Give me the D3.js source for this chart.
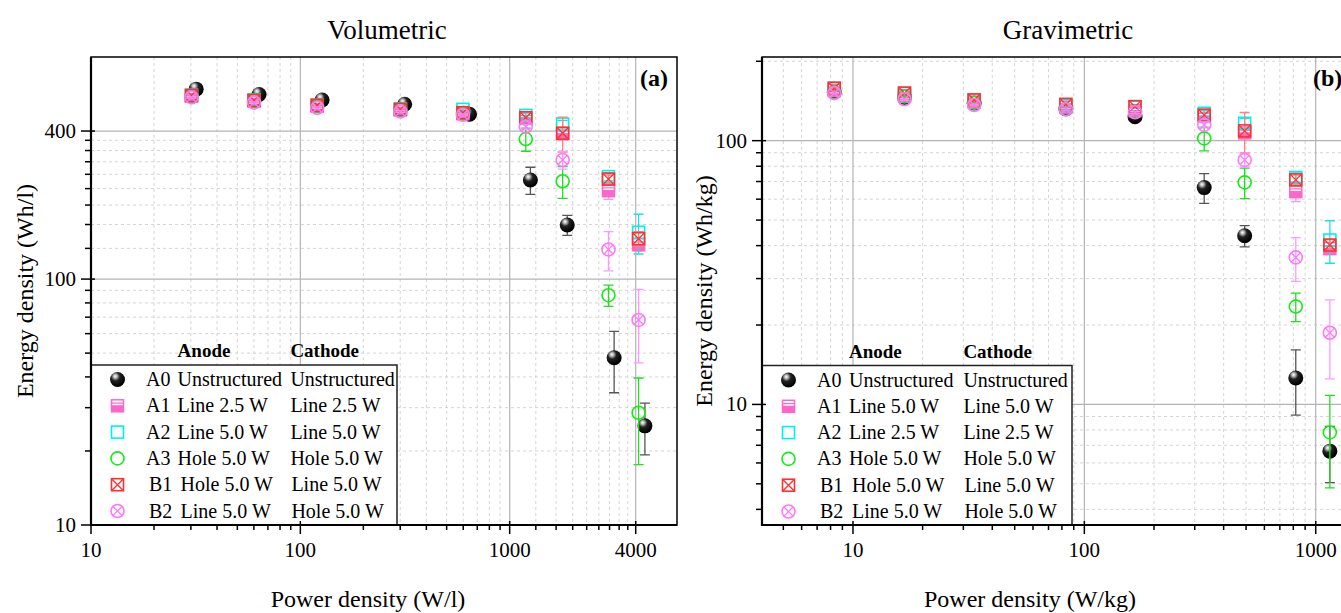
<!DOCTYPE html>
<html><head><meta charset="utf-8">
<script src="https://cdn.jsdelivr.net/npm/d3@7"></script>
<style>
html,body{margin:0;padding:0;background:#fff;}
svg{display:block;font-family:"Liberation Serif","Times New Roman",serif;}
</style></head>
<body>
<svg id="chart" width="1341" height="613"></svg>
<script>
// ---------------- DATA ----------------
const seriesIds = ["A0","A1","A2","A3","B1","B2"];

// Volumetric (a)
const volX   = [30.2, 60.1, 120.4, 300.6, 598, 1194, 1791, 2965, 4129];
const volXA0 = [31.8, 63.5, 127, 315, 643, 1256, 1884, 3155, 4426];
const volA0 = [592, 563, 535, 514, 468, 253, 166, 47.9, 25.3];
const volA0Err = [4, 4, 4, 4, 4, 32, 15.5, 13.4, 6];
const volA1 = [555, 530, 505, 488, 470, 450, 390, 229, 138];
const volA1Err = [4, 4, 4, 4, 4, 10, 12, 18, 8];
const volA2 = [560, 535, 510, 492, 490, 463, 427, 261, 155];
const volA2Err = [4, 4, 4, 4, 4, 10, 15, 10, 28.5];
const volA3 = [555, 530, 505, 488, 472, 371, 250, 86, 28.6];
const volA3Err = [4, 4, 4, 4, 4, 40, 37, 8.5, 11];
const volB1 = [558, 533, 509, 490, 475, 453, 392, 255, 146];
const volB1Err = [4, 4, 4, 4, 4, 10, 64, 10, 10];
const volB2 = [548, 522, 497, 480, 465, 417, 305, 132, 68.2];
const volB2Err = [4, 4, 4, 4, 4, 10, 25, 24, 22.6];

// Gravimetric (b)
const gravX = [8.3, 16.7, 33.4, 83.2, 165.6, 329.6, 493, 820, 1151];
const gravA0 = [153, 146, 139, 132, 123.3, 66.4, 43.6, 12.6, 6.65];
const gravA0Err = [1, 1, 1, 1, 1, 8.6, 4, 3.5, 1.6];
const gravA1 = [155, 148, 140, 134, 130, 124, 107, 64.1, 39];
const gravA1Err = [1, 1, 1, 1, 1, 3, 4, 5.4, 2];
const gravA2 = [158, 151, 143, 136, 134, 127, 116.4, 72.5, 42];
const gravA2Err = [1, 1, 1, 1, 1, 3, 5, 3, 7.7];
const gravA3 = [153, 147, 139, 132, 129, 102, 69.5, 23.5, 7.83];
const gravA3Err = [1, 1, 1, 1, 1, 10.6, 9.2, 2.9, 3];
const gravB1 = [158, 151.5, 142.7, 137.3, 134.6, 125, 108.9, 71, 40.2];
const gravB1Err = [1, 1, 1, 1, 1, 3, 19, 3, 2];
const gravB2 = [151.5, 143.6, 136.5, 131.5, 128.2, 114.8, 84.5, 36.1, 18.7];
const gravB2Err = [1, 1, 1, 1, 1, 3, 5, 6.8, 6.2];

// Axis ticks
const volXMajor = [10, 100, 1000, 4000];
const volXLabels = ["10", "100", "1000", "4000"];
const volXMinor = [20,30,40,50,60,70,80,90,200,300,400,500,600,700,800,900,
  1333.3,1666.7,2000,2333.3,2666.7,3000,3333.3,3666.7];
const volYMajor = [10, 100, 400];
const volYLabels = ["10", "100", "400"];
const volYMinor = [20,30,40,50,60,70,80,90,133.3,166.7,200,233.3,266.7,300,333.3,366.7];

const gravXMajor = [10, 100, 1000];
const gravXLabels = ["10", "100", "1000"];
const gravXMinor = [5,6,7,8,9,20,30,40,50,60,70,80,90,200,300,400,500,600,700,800,900];
const gravYMajor = [10, 100];
const gravYLabels = ["10", "100"];
const gravYMinor = [4,5,6,7,8,9,20,30,40,50,60,70,80,90,200];

// Legend text
const volAnode   = ["Unstructured","Line 2.5 W","Line 5.0 W","Hole 5.0 W","Hole 5.0 W","Line 5.0 W"];
const volCathode = ["Unstructured","Line 2.5 W","Line 5.0 W","Hole 5.0 W","Line 5.0 W","Hole 5.0 W"];
const gravAnode   = ["Unstructured","Line 5.0 W","Line 2.5 W","Hole 5.0 W","Hole 5.0 W","Line 5.0 W"];
const gravCathode = ["Unstructured","Line 5.0 W","Line 2.5 W","Hole 5.0 W","Line 5.0 W","Hole 5.0 W"];

// ---------------- STYLE ----------------
const colors = {A0:"#000000", A1:"#ff66cc", A2:"#00f0f0", A3:"#11ee11", B1:"#ff3030", B2:"#ff77ff"};
const errColors = {A0:"#555555", A1:"#ff99dd", A2:"#22e0e0", A3:"#22dd22", B1:"#ff8080", B2:"#ff99ff"};

const svg = d3.select("#chart");
const defs = svg.append("defs");
const grad = defs.append("radialGradient").attr("id","sphere")
  .attr("cx","38%").attr("cy","32%").attr("r","65%").attr("fx","35%").attr("fy","28%");
grad.append("stop").attr("offset","0%").attr("stop-color","#ffffff");
grad.append("stop").attr("offset","18%").attr("stop-color","#bbbbbb");
grad.append("stop").attr("offset","45%").attr("stop-color","#222222");
grad.append("stop").attr("offset","100%").attr("stop-color","#000000");

function drawSymbol(g, id, x, y) {
  const s = 6, r = 6.5;
  const c = colors[id];
  if (id === "A0") {
    g.append("circle").attr("cx",x).attr("cy",y).attr("r",7.5).attr("fill","url(#sphere)");
  } else if (id === "A1") {
    g.append("rect").attr("x",x-s).attr("y",y-s).attr("width",2*s).attr("height",2*s)
      .attr("fill","#fff").attr("stroke",c).attr("stroke-width",1.5);
    g.append("rect").attr("x",x-s).attr("y",y-s*0.1).attr("width",2*s).attr("height",s*1.1)
      .attr("fill",c);
    g.append("line").attr("x1",x-s).attr("x2",x+s).attr("y1",y-s*0.45).attr("y2",y-s*0.45)
      .attr("stroke",c).attr("stroke-width",1.2);
  } else if (id === "A2") {
    g.append("rect").attr("x",x-s).attr("y",y-s).attr("width",2*s).attr("height",2*s)
      .attr("fill","none").attr("stroke",c).attr("stroke-width",1.6);
  } else if (id === "A3") {
    g.append("circle").attr("cx",x).attr("cy",y).attr("r",r)
      .attr("fill","none").attr("stroke",c).attr("stroke-width",1.6);
  } else if (id === "B1") {
    g.append("rect").attr("x",x-s).attr("y",y-s).attr("width",2*s).attr("height",2*s)
      .attr("fill","none").attr("stroke",c).attr("stroke-width",1.6);
    g.append("path").attr("d",`M${x-s},${y-s}L${x+s},${y+s}M${x+s},${y-s}L${x-s},${y+s}`)
      .attr("stroke",c).attr("stroke-width",1.3);
  } else if (id === "B2") {
    g.append("circle").attr("cx",x).attr("cy",y).attr("r",r)
      .attr("fill","none").attr("stroke",c).attr("stroke-width",1.6);
    const d = r*0.707;
    g.append("path").attr("d",`M${x-d},${y-d}L${x+d},${y+d}M${x+d},${y-d}L${x-d},${y+d}`)
      .attr("stroke",c).attr("stroke-width",1.3);
  }
}

function panel(cfg) {
  const {x0,x1,y0,y1,xDom,yDom} = cfg;
  const xs = d3.scaleLog().domain(xDom).range([x0,x1]);
  const ys = d3.scaleLog().domain(yDom).range([y1,y0]);
  const g = svg.append("g");
  const clipId = "clip"+cfg.name;
  defs.append("clipPath").attr("id",clipId).append("rect")
    .attr("x",x0).attr("y",y0).attr("width",x1-x0).attr("height",y1-y0);

  // grid
  const grid = g.append("g").attr("clip-path",`url(#${clipId})`);
  grid.selectAll(".gxm").data(cfg.xMinor).join("line")
    .attr("x1",d=>xs(d)).attr("x2",d=>xs(d)).attr("y1",y0).attr("y2",y1)
    .attr("stroke","#d4d4d4").attr("stroke-width",1).attr("stroke-dasharray","3,3");
  grid.selectAll(".gym").data(cfg.yMinor).join("line")
    .attr("y1",d=>ys(d)).attr("y2",d=>ys(d)).attr("x1",x0).attr("x2",x1)
    .attr("stroke","#d4d4d4").attr("stroke-width",1).attr("stroke-dasharray","3,3");
  grid.selectAll(".gxM").data(cfg.xMajor).join("line")
    .attr("x1",d=>xs(d)).attr("x2",d=>xs(d)).attr("y1",y0).attr("y2",y1)
    .attr("stroke","#b4b4b4").attr("stroke-width",1.2);
  grid.selectAll(".gyM").data(cfg.yMajor).join("line")
    .attr("y1",d=>ys(d)).attr("y2",d=>ys(d)).attr("x1",x0).attr("x2",x1)
    .attr("stroke","#b4b4b4").attr("stroke-width",1.2);

  // legend box (covers grid)
  const L = cfg.legend;
  const lg = g.append("g");
  lg.append("rect").attr("x",x0).attr("y",L.top).attr("width",L.width).attr("height",y1-L.top)
    .attr("fill","#fff").attr("stroke","#222").attr("stroke-width",1.5);

  // data
  const dg = g.append("g").attr("clip-path",`url(#${clipId})`);
  cfg.series.forEach(sr => {
    const sg = dg.append("g");
    sr.y.forEach((v,i) => {
      const e = sr.err[i];
      const cx = xs(sr.x[i]);
      const yt = ys(v+e), yb = ys(Math.max(v-e, 0.01));
      sg.append("path")
        .attr("d",`M${cx},${yt}V${yb}M${cx-5},${yt}H${cx+5}M${cx-5},${yb}H${cx+5}`)
        .attr("stroke",errColors[sr.id]).attr("stroke-width",1.3).attr("fill","none");
    });
    sr.y.forEach((v,i) => drawSymbol(sg, sr.id, xs(sr.x[i]), ys(v)));
  });

  // legend contents
  lg.append("text").attr("x",x0+L.anode).attr("y",L.top-8).text("Anode")
    .attr("font-weight","bold").attr("font-size",19);
  lg.append("text").attr("x",x0+L.cathode).attr("y",L.top-8).text("Cathode")
    .attr("font-weight","bold").attr("font-size",19);
  seriesIds.forEach((id,i) => {
    const cy = L.top + 14.5 + i*26.3;
    const lr = lg.append("g");
    drawSymbol(lr, id, x0+26.5, cy);
    const off = id.startsWith("B") ? 3 : 0;
    lr.append("text").attr("x",x0+55+off).attr("y",cy+6.5).attr("font-size",20).text(id);
    lr.append("text").attr("x",x0+L.anode+off).attr("y",cy+6.5).attr("font-size",20).text(L.an[i]);
    lr.append("text").attr("x",x0+L.cathode+(i>=4?1:0)).attr("y",cy+6.5).attr("font-size",20).text(L.ca[i]);
  });

  // frame
  g.append("rect").attr("x",x0).attr("y",y0).attr("width",x1-x0).attr("height",y1-y0)
    .attr("fill","none").attr("stroke","#000").attr("stroke-width",1.5);
  g.append("line").attr("x1",x0).attr("x2",x0).attr("y1",y0).attr("y2",y1+1)
    .attr("stroke","#000").attr("stroke-width",2.2);
  g.append("line").attr("x1",x0-1).attr("x2",x1).attr("y1",y1).attr("y2",y1)
    .attr("stroke","#000").attr("stroke-width",2.2);

  // ticks
  const tk = g.append("g").attr("stroke","#000").attr("stroke-width",1.5);
  cfg.xMajor.forEach(d => tk.append("line").attr("x1",xs(d)).attr("x2",xs(d)).attr("y1",y1-4).attr("y2",y1+9));
  cfg.xMinor.forEach(d => { if (xs(d) > x0 && xs(d) < x1) tk.append("line").attr("x1",xs(d)).attr("x2",xs(d)).attr("y1",y1).attr("y2",y1+5); });
  cfg.yMajor.forEach(d => tk.append("line").attr("y1",ys(d)).attr("y2",ys(d)).attr("x1",x0-10).attr("x2",x0+4));
  cfg.yMinor.forEach(d => { if (ys(d) > y0 && ys(d) < y1) tk.append("line").attr("y1",ys(d)).attr("y2",ys(d)).attr("x1",x0-6).attr("x2",x0); });

  // tick labels
  cfg.xMajor.forEach((d,i) => g.append("text").attr("x",xs(d)).attr("y",y1+32)
    .attr("text-anchor","middle").attr("font-size",21).text(cfg.xLabels[i]));
  cfg.yMajor.forEach((d,i) => g.append("text").attr("x",x0-15).attr("y",ys(d)+7)
    .attr("text-anchor","end").attr("font-size",21).text(cfg.yLabels[i]));

  // titles
  g.append("text").attr("x",cfg.titleX).attr("y",39).attr("text-anchor","middle")
    .attr("font-size",27).text(cfg.title);
  g.append("text").attr("x",cfg.xTitleX).attr("y",607).attr("text-anchor","middle")
    .attr("font-size",24).text(cfg.xTitle);
  g.append("text").attr("transform",`translate(${cfg.yTitleX},${(y0+y1)/2}) rotate(-90)`)
    .attr("text-anchor","middle").attr("font-size",24).text(cfg.yTitle);
  g.append("text").attr("x",cfg.tagX).attr("y",86).attr("font-weight","bold")
    .attr("font-size",24).text(cfg.tag);
}

panel({
  name:"a", x0:91, x1:677, y0:57, y1:525, xDom:[10,6300], yDom:[10,800],
  xMajor:volXMajor, xLabels:volXLabels, xMinor:volXMinor,
  yMajor:volYMajor, yLabels:volYLabels, yMinor:volYMinor,
  title:"Volumetric", titleX:387, xTitle:"Power density (W/l)", xTitleX:368,
  yTitle:"Energy density (Wh/l)", yTitleX:33, tag:"(a)", tagX:640,
  legend:{top:365, width:306, anode:86.6, cathode:199.4, an:volAnode, ca:volCathode},
  series:[
    {id:"A0", x:volXA0, y:volA0, err:volA0Err},
    {id:"A1", x:volX, y:volA1, err:volA1Err},
    {id:"A2", x:volX, y:volA2, err:volA2Err},
    {id:"A3", x:volX, y:volA3, err:volA3Err},
    {id:"B1", x:volX, y:volB1, err:volB1Err},
    {id:"B2", x:volX, y:volB2, err:volB2Err}
  ]
});

panel({
  name:"b", x0:762, x1:1362, y0:57, y1:525, xDom:[4.044,1585], yDom:[3.49,207.6],
  xMajor:gravXMajor, xLabels:gravXLabels, xMinor:gravXMinor,
  yMajor:gravYMajor, yLabels:gravYLabels, yMinor:gravYMinor,
  title:"Gravimetric", titleX:1068, xTitle:"Power density (W/kg)", xTitleX:1030,
  yTitle:"Energy density (Wh/kg)", yTitleX:712, tag:"(b)", tagX:1313,
  legend:{top:365.5, width:310, anode:87, cathode:201.4, an:gravAnode, ca:gravCathode},
  series:[
    {id:"A0", x:gravX, y:gravA0, err:gravA0Err},
    {id:"A1", x:gravX, y:gravA1, err:gravA1Err},
    {id:"A2", x:gravX, y:gravA2, err:gravA2Err},
    {id:"A3", x:gravX, y:gravA3, err:gravA3Err},
    {id:"B1", x:gravX, y:gravB1, err:gravB1Err},
    {id:"B2", x:gravX, y:gravB2, err:gravB2Err}
  ]
});
</script>
</body></html>
